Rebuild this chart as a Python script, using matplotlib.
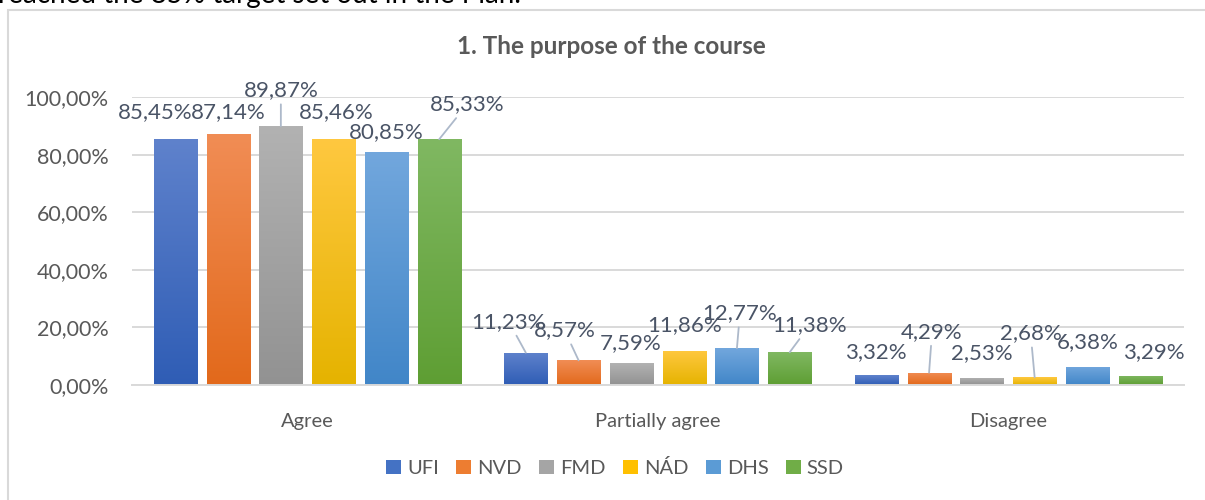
import numpy as np
import matplotlib.pyplot as plt
from matplotlib.colors import LinearSegmentedColormap
from matplotlib.patches import Patch, Rectangle

# data
categories = ["Agree", "Partially agree", "Disagree"]
series_names = ["UFI", "NVD", "FMD", "NÁD", "DHS", "SSD"]
ufi = [85.45, 11.23, 3.32]
nvd = [87.14, 8.57, 4.29]
fmd = [89.87, 7.59, 2.53]
nad = [85.46, 11.86, 2.68]
dhs = [80.85, 12.77, 6.38]
ssd = [85.33, 11.38, 3.29]
values = [ufi, nvd, fmd, nad, dhs, ssd]
y_ticks = [0, 20, 40, 60, 80, 100]

# colours: (legend, gradient top, gradient bottom)
base_colors = ["#4472C4", "#ED7D31", "#A5A5A5", "#FFC000", "#5B9BD5", "#70AD47"]
top_colors = ["#5F82CC", "#F18D55", "#B2B2B2", "#FFC840", "#72A7DD", "#80B862"]
bot_colors = ["#2F5DB5", "#E2691B", "#929292", "#E5B300", "#4186C8", "#5E9E33"]

# label offsets in pixels (dx, dy) from bar top, and whether a leader line is drawn
label_offsets = [
    [(-20, 27, False), (-17, 31, True), (0, 23, False)],
    [(0, 22, False), (-14, 30, True), (3, 41, True)],
    [(0, 36, True), (-1, 20, False), (0, 25, False)],
    [(3, 27, False), (0, 26, False), (-4, 44, True)],
    [(0, 20, False), (3, 35, True), (0, 25, False)],
    [(28, 35, True), (20, 27, True), (14, 23, False)],
]

text_col = "#4A5466"
tick_col = "#595959"
grid_col = "#D9D9D9"
FONT = "Lato"

plt.rcParams['font.family'] = [FONT, 'DejaVu Sans']

fig = plt.figure(figsize=(12.05, 5.0), dpi=100)
ax = fig.add_axes([132 / 1205, 115 / 500, 1051.5 / 1205, 288 / 500])

# chart border (top + left visible)
fig.patches.append(Rectangle((8 / 1205, -0.1), 1.2, (490 / 500) + 0.1,
                             transform=fig.transFigure, fill=False,
                             edgecolor=grid_col, lw=1.5))

# cut-off line of document text above the chart
fig.text(-0.002, 1 - 2.5 / 500, "reached the 85% target set out in the Plan.",
         fontsize=20, color="black", va="baseline", ha="left")

x = np.arange(len(categories))
width = 0.123
pitch = 0.1506

for i, name in enumerate(series_names):
    offs = (i - 2.5) * pitch
    bars = ax.bar(x + offs, values[i], width, color=base_colors[i], zorder=2)
    cmap = LinearSegmentedColormap.from_list(name, [bot_colors[i], top_colors[i]])
    grad = np.linspace(0, 1, 256).reshape(-1, 1)
    for j, b in enumerate(bars):
        im = ax.imshow(grad, cmap=cmap, origin="lower", aspect="auto",
                       extent=[b.get_x(), b.get_x() + b.get_width(), 0, b.get_height()],
                       zorder=2.5)
        im.set_clip_path(b)
        dx, dy, leader = label_offsets[i][j]
        lbl = f"{values[i][j]:.2f}%".replace(".", ",")
        arrow = dict(arrowstyle="-", color="#ADB9CA", lw=1.3, shrinkA=1, shrinkB=0) if leader else None
        ax.annotate(lbl, xy=(b.get_x() + b.get_width() / 2, b.get_height()),
                    xytext=(dx, dy), textcoords="offset pixels",
                    ha="center", va="center", fontsize=16, color=text_col,
                    arrowprops=arrow, annotation_clip=False, zorder=4)

ax.set_xlim(-0.5, 2.5)
ax.set_ylim(0, 100)
ax.set_yticks(y_ticks)
ax.set_yticklabels([f"{t:.2f}%".replace(".", ",") for t in y_ticks])
ax.set_xticks(x)
ax.set_xticklabels(categories)

ax.grid(axis="y", color=grid_col, lw=1.4, zorder=0)
ax.set_axisbelow(True)
for s in ["top", "right", "left"]:
    ax.spines[s].set_visible(False)
ax.spines["bottom"].set_color(grid_col)
ax.spines["bottom"].set_linewidth(1.4)
ax.tick_params(axis="both", length=0, colors=tick_col)
ax.tick_params(axis="y", pad=17, labelsize=15.5)
ax.tick_params(axis="x", pad=20, labelsize=14.5)

fig.text(611 / 1205, 1 - 47 / 500, "1. The purpose of the course",
         ha="center", va="center", fontsize=17.5, fontweight="bold", color=tick_col)

handles = [Patch(facecolor=c, edgecolor="none") for c in base_colors]
fig.legend(handles, series_names, loc="center", bbox_to_anchor=(615 / 1205, 1 - 468 / 500),
           ncol=6, frameon=False, fontsize=14.5, handlelength=0.75, handleheight=0.75,
           handletextpad=0.3, columnspacing=0.85, labelcolor=tick_col)

fig.savefig("out.png", dpi=100)
